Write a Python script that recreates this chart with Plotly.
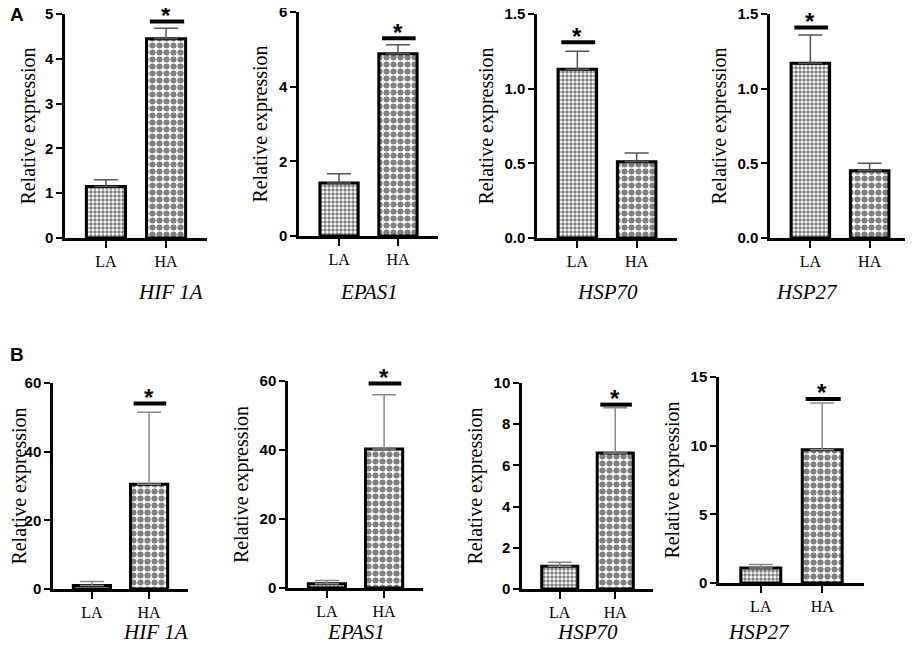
import plotly.graph_objects as go

genes = ["HIF 1A", "EPAS1", "HSP70", "HSP27"]
groups = ["LA", "HA"]

# panel A
a_means = [[1.15, 4.45], [1.42, 4.88], [1.13, 0.51], [1.17, 0.45]]
a_errors = [[0.15, 0.23], [0.25, 0.24], [0.12, 0.06], [0.19, 0.05]]
a_sig_group = [1, 1, 0, 0]
a_sig_level = [4.83, 5.3, 1.31, 1.41]
a_ymax = [5, 6, 1.5, 1.5]
a_dtick = [1, 2, 0.5, 0.5]

# panel B
b_means = [[1.0, 30.5], [1.2, 40.3], [1.1, 6.6], [1.1, 9.7]]
b_errors = [[1.2, 21.0], [1.0, 15.7], [0.2, 2.2], [0.25, 3.4]]
b_sig_group = [1, 1, 1, 1]
b_sig_level = [54, 59.3, 8.95, 13.4]
b_ymax = [60, 60, 10, 15]
b_dtick = [20, 20, 2, 5]

W, H = 913, 647
OFF = 8  # page body margin pushes the figure by this much
SERIF = "Liberation Serif"
SANS = "Liberation Sans"


def px(x):
    return (x - OFF) / W


def py(y):
    return 1 - (y - OFF) / H


# pixel boxes of each plot area on screen: (left, right, bottom, top)
boxes = [
    (65, 207, 238, 14), (299, 438, 236, 12), (537, 677, 238, 14), (770, 910, 238, 14),
    (53, 188, 589, 383), (288, 423, 588, 381), (522, 653, 589, 383), (719, 864, 583, 377),
]
name_offset = [54, 56, 54, 54, 43, 44, 43, 49]
title_standoff = [4, 6, 6, 6, 16, 6, 6, 6]

panels = []
for i in range(4):
    panels.append((a_means[i], a_errors[i], a_sig_group[i], a_sig_level[i],
                   a_ymax[i], a_dtick[i], genes[i], "#555555"))
for i in range(4):
    panels.append((b_means[i], b_errors[i], b_sig_group[i], b_sig_level[i],
                   b_ymax[i], b_dtick[i], genes[i], "#8a8a8a"))

fig = go.Figure()
shapes = []
annotations = []

for k, (means, errs, sg, sl, ymax, dtick, gene, ecol) in enumerate(panels):
    n = k + 1
    xa, ya = f"x{n}", f"y{n}"
    left, right, bottom, top = boxes[k]
    fig.add_trace(go.Bar(
        x=groups, y=means, xaxis=xa, yaxis=ya, width=0.65,
        marker=dict(
            color="white",
            line=dict(color="black", width=3),
            pattern=dict(shape=[".", "."], size=[4, 7], solidity=[0.6, 0.6],
                         fgcolor="black", bgcolor="white"),
        ),
        error_y=dict(type="data", symmetric=False, array=errs, arrayminus=[0, 0],
                     color=ecol, thickness=1.5, width=12),
        showlegend=False,
    ))
    key = "" if n == 1 else str(n)
    fig.update_layout(**{
        f"xaxis{key}": dict(
            domain=[px(left), px(right)], anchor=ya, range=[-0.68, 1.68],
            showline=True, linecolor="black", linewidth=2.5,
            ticks="outside", ticklen=7, tickwidth=2, tickcolor="black",
            tickfont=dict(family=SERIF, size=16, color="black"),
            showgrid=False, zeroline=False, fixedrange=True, automargin=False,
        ),
        f"yaxis{key}": dict(
            domain=[py(bottom), py(top)], anchor=xa, range=[0, ymax],
            dtick=dtick, tick0=0, tickformat=".1f" if dtick < 1 else "d",
            showline=True, linecolor="black", linewidth=2.5,
            ticks="outside", ticklen=6, tickwidth=2, tickcolor="black",
            tickfont=dict(family=SANS, size=15, color="black", weight="bold"),
            ticklabeloverflow="allow",
            title=dict(text="Relative expression", standoff=title_standoff[k],
                       font=dict(family=SERIF, size=20, color="black")),
            showgrid=False, zeroline=False, fixedrange=True, automargin=False,
        ),
    })
    # significance bar and asterisk
    shapes.append(dict(type="line", xref=xa, yref=ya, x0=sg - 0.27, x1=sg + 0.3,
                       y0=sl, y1=sl, line=dict(color="black", width=4)))
    annotations.append(dict(xref=xa, yref=ya, x=sg, y=sl, text="<b>*</b>",
                            showarrow=False, yanchor="middle", yshift=6,
                            font=dict(family=SANS, size=24, color="black")))
    # gene name
    annotations.append(dict(xref="paper", yref="paper", x=px((left + right) / 2),
                            y=py(bottom + name_offset[k]), text=f"<i>{gene}</i>",
                            showarrow=False, yanchor="middle",
                            font=dict(family=SERIF, size=21, color="black")))

annotations.append(dict(xref="paper", yref="paper", x=px(8), y=py(15), text="<b>A</b>",
                        showarrow=False, xanchor="left", yanchor="middle",
                        font=dict(family=SANS, size=19, color="black")))
annotations.append(dict(xref="paper", yref="paper", x=px(8), y=py(355), text="<b>B</b>",
                        showarrow=False, xanchor="left", yanchor="middle",
                        font=dict(family=SANS, size=19, color="black")))

fig.update_layout(
    width=W, height=H, margin=dict(l=0, r=0, t=0, b=0),
    paper_bgcolor="white", plot_bgcolor="white",
    shapes=shapes, annotations=annotations, showlegend=False,
)

fig.write_html("out.html")
